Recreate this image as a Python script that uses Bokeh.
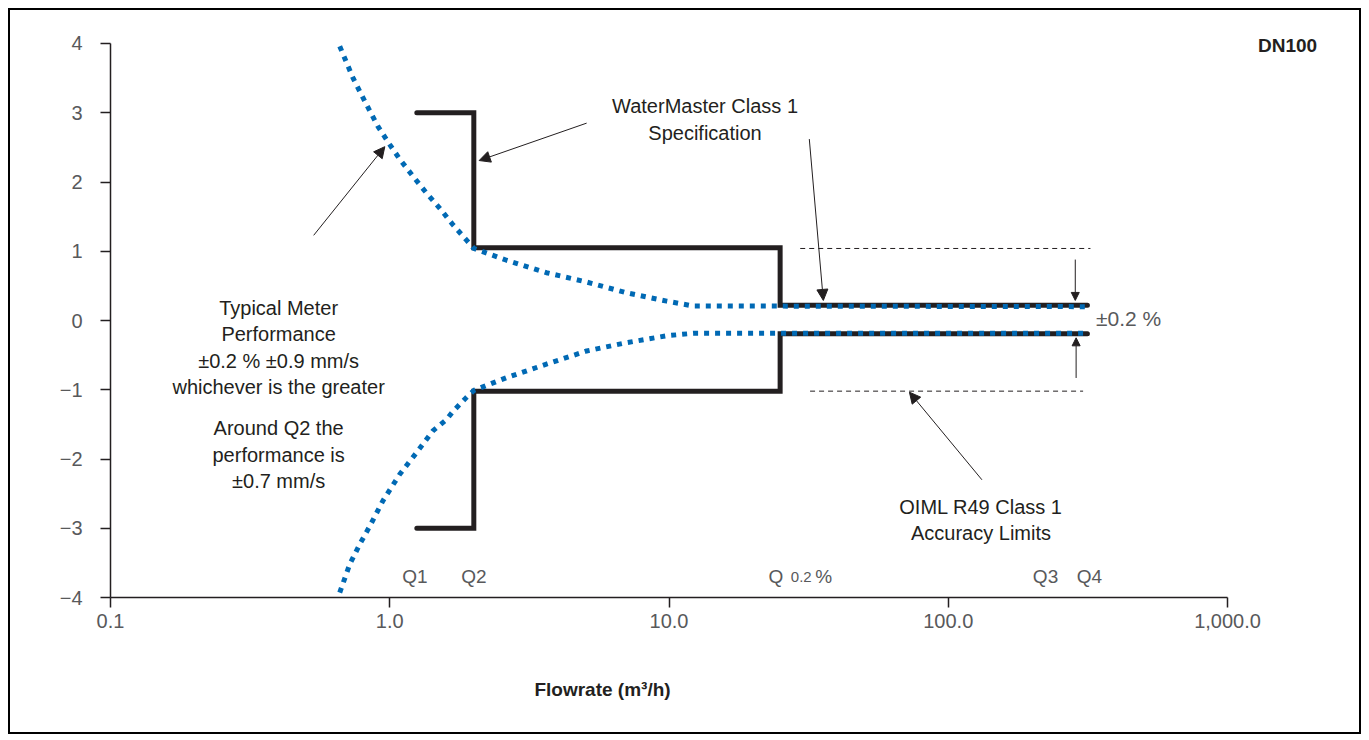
from bokeh.plotting import figure
from bokeh.models import FixedTicker, Arrow, NormalHead, Range1d
from bokeh.core.properties import value
from bokeh.embed import file_html
from bokeh.resources import INLINE

# ---------------- data ----------------
x_ticks = [0.1, 1, 10, 100, 1000]
x_tick_labels = ["0.1", "1.0", "10.0", "100.0", "1,000.0"]
y_ticks = [-4, -3, -2, -1, 0, 1, 2, 3, 4]
y_tick_labels = ["\u22124", "\u22123", "\u22122", "\u22121", "0", "1", "2", "3", "4"]

# WaterMaster Class 1 specification (black step lines)
spec_x = [1.25, 2.0, 2.0, 25, 25, 315]
spec_upper_y = [3, 3, 1.05, 1.05, 0.22, 0.22]
spec_lower_y = [-3, -3, -1.02, -1.02, -0.19, -0.19]

# Typical meter performance (blue dotted curves)
typ_upper_x = [0.662, 0.739, 0.825, 0.908, 1.0, 1.086, 1.212, 1.354, 1.511, 1.686, 1.883, 2.0,
               2.62, 3.64, 5.07, 7.05, 9.81, 12.2, 315]
typ_upper_y = [3.96, 3.50, 3.12, 2.80, 2.54, 2.33, 2.08, 1.84, 1.62, 1.38, 1.16, 1.04,
               0.87, 0.69, 0.556, 0.40, 0.28, 0.21, 0.20]
typ_lower_x = [0.662, 0.719, 0.781, 0.848, 0.946, 1.086, 1.246, 1.43, 1.597, 1.686, 1.883, 2.0,
               2.62, 3.64, 5.07, 7.05, 9.81, 12.2, 315]
typ_lower_y = [-3.93, -3.52, -3.23, -2.97, -2.60, -2.22, -1.91, -1.59, -1.43, -1.31, -1.11, -1.01,
               -0.825, -0.63, -0.44, -0.32, -0.22, -0.185, -0.185]

# OIML R49 Class 1 accuracy limits (dashed)
oiml_upper_x = [29.5, 323]
oiml_upper_y = [1.04, 1.04]
oiml_lower_x = [32.0, 304]
oiml_lower_y = [-1.02, -1.02]

# Flow point labels
q_labels = ["Q1", "Q2", "Q3", "Q4"]
q_x = [1.23, 2.0, 223, 320]

# annotation arrows
arrow_x0 = [0.534, 5.07, 31.8, 132, 285, 287]
arrow_y0 = [1.23, 2.85, 2.62, -2.30, 0.88, -0.83]
arrow_x1 = [0.96, 2.09, 35.7, 72.6, 285, 287]
arrow_y1 = [2.51, 2.31, 0.29, -1.035, 0.29, -0.25]
arrow_head = [11, 11, 11, 11, 8, 8]

notes = ["Typical Meter\nPerformance\n\u00b10.2 % \u00b10.9 mm/s\nwhichever is the greater",
         "Around Q2 the\nperformance is\n\u00b10.7 mm/s",
         "WaterMaster Class 1\nSpecification",
         "OIML R49 Class 1\nAccuracy Limits"]
notes_x = [0.40, 0.40, 13.46, 131]
notes_y = [-0.39, -1.94, 2.90, -2.88]

FONT = "Liberation Sans"
BLACK = "#231f20"
GREY = "#58595b"
BLUE = "#0069b4"

p = figure(width=1353, height=726, x_axis_type="log",
           x_range=Range1d(0.04384, 3069), y_range=Range1d(-6.007, 4.4765),
           output_backend="svg", toolbar_location=None, min_border=0)
p.styles = {"border": "2px solid black", "margin-left": "8px", "margin-top": "8px"}
p.outline_line_color = None
p.xgrid.visible = False
p.ygrid.visible = False

for ax in (p.xaxis[0], p.yaxis[0]):
    ax.axis_line_color = BLACK
    ax.axis_line_width = 1.5
    ax.major_tick_line_color = BLACK
    ax.major_tick_line_width = 1.5
    ax.major_tick_in = 0
    ax.major_tick_out = 10
    ax.minor_tick_line_color = None
    ax.major_label_text_font = FONT
    ax.major_label_text_font_size = "20px"
    ax.major_label_text_color = GREY

p.xaxis[0].ticker = FixedTicker(ticks=x_ticks, minor_ticks=[])
p.xaxis[0].major_label_overrides = {t: l for t, l in zip(x_ticks, x_tick_labels)}
p.xaxis[0].major_label_standoff = 6
p.xaxis[0].bounds = (0.1, 1000)
p.xaxis[0].fixed_location = -4
p.yaxis[0].ticker = FixedTicker(ticks=y_ticks, minor_ticks=[])
p.yaxis[0].major_label_overrides = {t: l for t, l in zip(y_ticks, y_tick_labels)}
p.yaxis[0].major_label_standoff = 18
p.yaxis[0].bounds = (-4, 4)
p.yaxis[0].fixed_location = 0.1

# spec lines
p.line(spec_x, spec_upper_y, line_color=BLACK, line_width=5, line_cap="round", line_join="miter")
p.line(spec_x, spec_lower_y, line_color=BLACK, line_width=5, line_cap="round", line_join="miter")

# OIML dashed
p.line(oiml_upper_x, oiml_upper_y, line_color=BLACK, line_width=1, line_dash="5 4")
p.line(oiml_lower_x, oiml_lower_y, line_color=BLACK, line_width=1, line_dash="5 4")

# typical performance dotted
p.line(typ_upper_x, typ_upper_y, line_color=BLUE, line_width=5, line_dash="5 6", line_cap="butt")
p.line(typ_lower_x, typ_lower_y, line_color=BLUE, line_width=5, line_dash="5 6", line_cap="butt")

# arrows
for x0, y0, x1, y1, hs in zip(arrow_x0, arrow_y0, arrow_x1, arrow_y1, arrow_head):
    p.add_layout(Arrow(x_start=x0, y_start=y0, x_end=x1, y_end=y1,
                       line_color=BLACK, line_width=1,
                       end=NormalHead(size=hs, fill_color=BLACK, line_color=BLACK, line_width=1)))

# notes
p.text(x=notes_x, y=notes_y, text=notes, text_font=value(FONT), text_font_size=value("20px"),
       text_color=BLACK, text_align="center", text_baseline="middle", text_line_height=1.2)

# Q labels
p.text(x=q_x, y=[-3.70] * len(q_x), text=q_labels, text_font=value(FONT), text_font_size=value("19px"),
       text_color=GREY, text_align="center", text_baseline="alphabetic")
p.text(x=[22.7], y=[-3.70], text=["Q"], text_font=value(FONT), text_font_size=value("19px"),
       text_color=GREY, text_align="left", text_baseline="alphabetic")
p.text(x=[27.3], y=[-3.70], text=["0.2"], text_font=value(FONT), text_font_size=value("15px"),
       text_color=GREY, text_align="left", text_baseline="alphabetic")
p.text(x=[33.4], y=[-3.70], text=["%"], text_font=value(FONT), text_font_size=value("19px"),
       text_color=GREY, text_align="left", text_baseline="alphabetic")

# +-0.2 % label
p.text(x=[338], y=[0.03], text=["\u00b10.2 %"], text_font=value(FONT), text_font_size=value("21px"),
       text_color=GREY, text_align="left", text_baseline="middle")

# DN100 and axis title
p.text(x=[1641], y=[3.975], text=["DN100"], text_font=value(FONT), text_font_size=value("19px"),
       text_font_style="bold", text_color=BLACK, text_align="center", text_baseline="middle")
p.text(x=[5.78], y=[-5.33], text=["Flowrate (m\u00b3/h)"], text_font=value(FONT),
       text_font_size=value("19px"), text_font_style="bold", text_color=BLACK,
       text_align="center", text_baseline="middle")

open("out.html", "w").write(file_html(p, INLINE))
